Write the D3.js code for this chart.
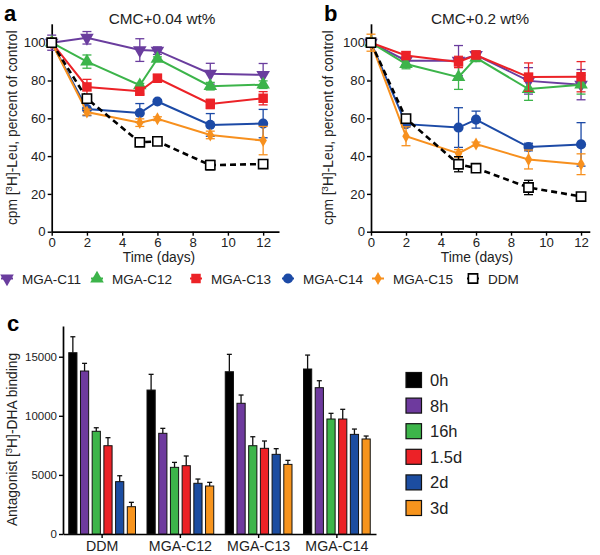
<!DOCTYPE html>
<html><head><meta charset="utf-8">
<script src="https://cdn.jsdelivr.net/npm/d3@7"></script>
<style>body{margin:0;background:#fff}svg{font-family:"Liberation Sans",Arial,sans-serif}</style>
</head><body><svg id="c" width="600" height="555"></svg>
<script>
// ---------- data ----------
const days = [0, 2, 5, 6, 9, 12];
const seriesNames = ["MGA-C11", "MGA-C12", "MGA-C13", "MGA-C14", "MGA-C15", "DDM"];
const seriesColors = ["#6a3d9e", "#3cb44a", "#ec2227", "#1c4aa6", "#f7901e", "#000000"];
const seriesShapes = ["triDown", "triUp", "square", "circle", "diamond", "openSquare"];

// Panel a: CMC+0.04 wt%
const aMean = [
  [100, 102.6, 96.1, 95.8, 83.6, 83.0],
  [100, 90.0, 77.5, 91.5, 77.0, 77.8],
  [100, 76.6, 74.3, 81.2, 67.6, 70.6],
  [100, 64.9, 62.8, 68.9, 56.5, 57.2],
  [100, 63.3, 57.7, 59.8, 51.2, 48.2],
  [100, 70.4, 47.3, 47.8, 35.2, 35.8]
];
const aErr = [
  [4, 3.3, 6, 2, 5.5, 6],
  [2, 3.5, 1, 1, 2, 2],
  [1.5, 4, 1.5, 2, 2.5, 3.5],
  [1.5, 3.5, 5, 1, 6, 7.5],
  [1.5, 1.5, 2, 1, 2, 7.5],
  [1, 1.5, 1.5, 1, 2.5, 1]
];
// Panel b: CMC+0.2 wt%
const bMean = [
  [100, 90.5, 90.5, 93.5, 79.8, 77.8],
  [100, 88.7, 81.8, 92.0, 75.5, 77.8],
  [100, 93.2, 89.8, 93.5, 81.8, 82.0],
  [100, 56.9, 55.1, 59.3, 44.8, 46.2],
  [100, 50.5, 41.4, 46.4, 38.2, 35.7],
  [100, 59.8, 35.7, 33.6, 23.4, 18.6]
];
const bErr = [
  [2, 2, 8, 2, 7, 8],
  [2, 2.5, 6.5, 2, 6, 5],
  [2, 2, 3, 2, 7.5, 8],
  [1.5, 1.5, 10.5, 4.5, 2, 11.5],
  [4.5, 5, 2, 1, 5, 5.5],
  [1, 2, 4, 1, 3.8, 1]
];

// Panel c
const cGroups = ["DDM", "MGA-C12", "MGA-C13", "MGA-C14"];
const cTimes = ["0h", "8h", "16h", "1.5d", "2d", "3d"];
const cColors = ["#000000", "#6e3a9e", "#3db54a", "#ec2227", "#1c4da1", "#f7941d"];
const cMean = [
  [15340, 13790, 8690, 7470, 4430, 2310],
  [12180, 8520, 5640, 5780, 4290, 4060],
  [13730, 11060, 7470, 7250, 6740, 5890],
  [13960, 12380, 9730, 9730, 8430, 8040]
];
const cErr = [
  [1350, 650, 300, 680, 500, 370],
  [1330, 420, 420, 820, 360, 310],
  [1470, 700, 760, 620, 480, 340],
  [1180, 590, 480, 820, 450, 250]
];
const yTicksAB = [0, 20, 40, 60, 80, 100];
const xTicksAB = [0, 2, 4, 6, 8, 10, 12];
const yTicksC = [0, 5000, 10000, 15000];

// ---------- drawing ----------
const svg = d3.select("#c");
const FS = 13.2;
const LFS = 13.8;

function symbolPath(shape, size) {
  const map = {triDown: d3.symbolTriangle, triUp: d3.symbolTriangle, square: d3.symbolSquare,
    circle: d3.symbolCircle, diamond: d3.symbolDiamond, openSquare: d3.symbolSquare};
  return d3.symbol().type(map[shape]).size(size)();
}
function drawMarker(g, shape, color, x, y) {
  const sizes = {triDown: 80, triUp: 80, square: 90, circle: 80, diamond: 48, openSquare: 85};
  const p = g.append("path").attr("d", symbolPath(shape, sizes[shape]))
    .attr("transform", `translate(${x},${y})` + (shape === "triDown" ? " rotate(180)" : ""));
  if (shape === "openSquare") p.attr("fill", "#fff").attr("stroke", "#000").attr("stroke-width", 1.6);
  else p.attr("fill", color);
}
function styleAxis(a, fs) {
  a.select(".domain").attr("stroke-width", 1.7);
  a.selectAll(".tick line").attr("stroke-width", 1.4);
  a.selectAll("text").attr("font-size", fs).attr("fill", "#222").attr("font-family", "Liberation Sans, Arial, sans-serif");
}

function linePanel(opt) {
  const g = svg.append("g");
  const x = d3.scaleLinear().domain([0, opt.xMax]).range([opt.x0, opt.x1]);
  const y = d3.scaleLinear().domain([0, 110]).range([231.7, 23.8]);
  const xa = g.append("g").attr("transform", `translate(0,${y(0)})`)
    .call(d3.axisBottom(x).tickValues(xTicksAB).tickSize(4).tickPadding(2).tickSizeOuter(0));
  const ya = g.append("g").attr("transform", `translate(${x(0)},0)`)
    .call(d3.axisLeft(y).tickValues(yTicksAB).tickSize(4).tickPadding(2).tickSizeOuter(0));
  styleAxis(xa, FS); styleAxis(ya, FS);
  g.append("text").attr("x", opt.titleX).attr("y", 24).attr("text-anchor", "middle")
    .attr("font-size", 15.3).attr("fill", "#222").text(opt.title);
  g.append("text").attr("x", opt.letterX).attr("y", 20.5).attr("font-size", 22).attr("font-weight", "bold").text(opt.letter);
  g.append("text").attr("x", opt.xlabX).attr("y", 262).attr("text-anchor", "middle")
    .attr("font-size", LFS).attr("fill", "#222").text("Time (days)");
  const yl = g.append("text").attr("transform", `translate(${opt.ylabX},${y(55)}) rotate(-90)`)
    .attr("text-anchor", "middle").attr("font-size", LFS).attr("fill", "#222");
  yl.append("tspan").text("cpm [");
  yl.append("tspan").attr("font-size", 9.5).attr("dy", -5).text("3");
  yl.append("tspan").attr("dy", 5).text("H]-Leu, percent of control");

  const line = d3.line().x((d, i) => x(days[i])).y(d => y(d));
  seriesNames.forEach((n, s) => {
    const col = seriesColors[s];
    const sg = g.append("g");
    opt.mean[s].forEach((m, i) => {
      const e = opt.err[s][i];
      const cx = x(days[i]);
      sg.append("line").attr("x1", cx).attr("x2", cx).attr("y1", y(m - e)).attr("y2", y(m + e))
        .attr("stroke", col).attr("stroke-width", 1.3);
      [m - e, m + e].forEach(v => sg.append("line").attr("x1", cx - 4.5).attr("x2", cx + 4.5)
        .attr("y1", y(v)).attr("y2", y(v)).attr("stroke", col).attr("stroke-width", 1.3));
    });
    sg.append("path").datum(opt.mean[s]).attr("d", line).attr("fill", "none")
      .attr("stroke", col).attr("stroke-width", s === 5 ? 2.6 : 2)
      .attr("stroke-dasharray", s === 5 ? "6,4" : null);
    opt.mean[s].forEach((m, i) => drawMarker(sg, seriesShapes[s], col, x(days[i]), y(m)));
  });
}

linePanel({x0: 51.7, x1: 279, xMax: 12.9, mean: aMean, err: aErr, title: "CMC+0.04 wt%", titleX: 162,
  letter: "a", letterX: 4, ylabX: 17, xlabX: 159});
linePanel({x0: 371, x1: 589.8, xMax: 12.5, mean: bMean, err: bErr, title: "CMC+0.2 wt%", titleX: 480,
  letter: "b", letterX: 324, ylabX: 333, xlabX: 477});

// legend for a/b
const legX = [7, 97, 196, 288, 378, 473];
seriesNames.forEach((n, s) => {
  const lg = svg.append("g");
  const cx = legX[s];
  lg.append("line").attr("x1", cx - 6).attr("x2", cx + 6).attr("y1", 278.5).attr("y2", 278.5)
    .attr("stroke", seriesColors[s]).attr("stroke-width", 2);
  drawMarker(lg, seriesShapes[s], seriesColors[s], cx, 278.5);
  lg.append("text").attr("x", cx + 15).attr("y", 283.5).attr("font-size", 13.5).attr("fill", "#222").text(n);
});

// panel c
const gc = svg.append("g");
const xc = d3.scaleBand().domain(cGroups).range([63, 376]).padding(0);
const xs = d3.scaleBand().domain(cTimes).range([4, xc.bandwidth() - 4]).paddingInner(0.3).paddingOuter(0.15);
const yc = d3.scaleLinear().domain([0, 17600]).range([534, 326]);
const xca = gc.append("g").attr("transform", `translate(0,${yc(0)})`)
  .call(d3.axisBottom(xc).tickSize(4).tickPadding(3).tickSizeOuter(0));
const yca = gc.append("g").attr("transform", `translate(63,0)`)
  .call(d3.axisLeft(yc).tickValues(yTicksC).tickFormat(d3.format("d")).tickSize(4).tickPadding(2).tickSizeOuter(0));
styleAxis(xca, 14.2); styleAxis(yca, 11.5);
gc.append("text").attr("x", 7).attr("y", 331).attr("font-size", 22).attr("font-weight", "bold").text("c");
const ycl = gc.append("text").attr("transform", `translate(17,${yc(8000)}) rotate(-90)`)
  .attr("text-anchor", "middle").attr("font-size", LFS).attr("fill", "#222");
ycl.append("tspan").text("Antagonist [");
ycl.append("tspan").attr("font-size", 9.5).attr("dy", -5).text("3");
ycl.append("tspan").attr("dy", 5).text("H]-DHA binding");

cGroups.forEach((grp, gi) => {
  cTimes.forEach((t, ti) => {
    const bx = xc(grp) + xs(t), bw = xs.bandwidth();
    const v = cMean[gi][ti], e = cErr[gi][ti];
    const cx = bx + bw / 2;
    gc.append("line").attr("x1", cx).attr("x2", cx).attr("y1", yc(v)).attr("y2", yc(v + e))
      .attr("stroke", "#111").attr("stroke-width", 1.3);
    gc.append("line").attr("x1", cx - 2.5).attr("x2", cx + 2.5).attr("y1", yc(v + e)).attr("y2", yc(v + e))
      .attr("stroke", "#111").attr("stroke-width", 1.3);
    gc.append("rect").attr("x", bx).attr("y", yc(v)).attr("width", bw).attr("height", yc(0) - yc(v))
      .attr("fill", cColors[ti]).attr("stroke", "#111").attr("stroke-width", 1);
  });
});
cTimes.forEach((t, i) => {
  const cy = 380 + i * 25.6;
  gc.append("rect").attr("x", 406).attr("y", cy - 7.5).attr("width", 15.5).attr("height", 15)
    .attr("fill", cColors[i]).attr("stroke", "#111").attr("stroke-width", 1.2);
  gc.append("text").attr("x", 430).attr("y", cy + 6).attr("font-size", 16.5).attr("fill", "#222").text(t);
});
</script></body></html>
